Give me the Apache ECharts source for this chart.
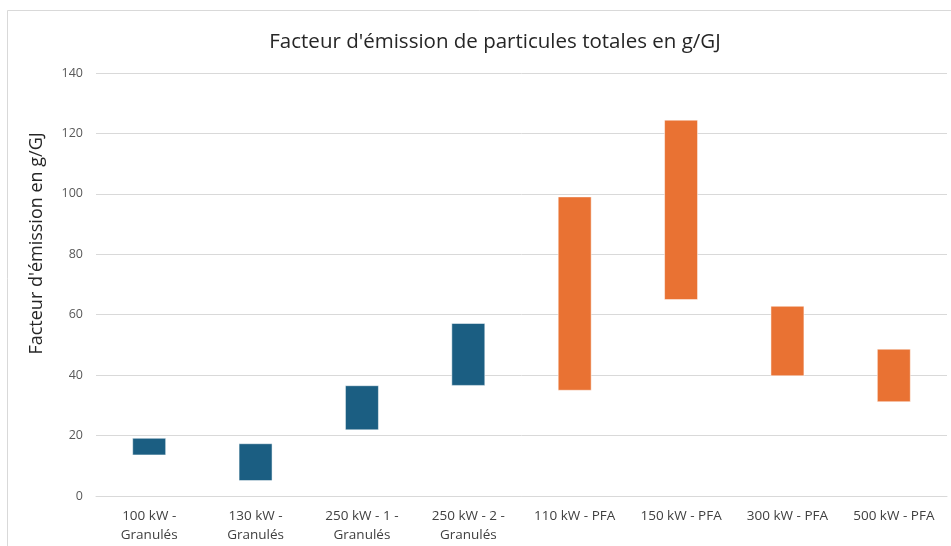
<!DOCTYPE html>
<html>
<head>
<meta charset="utf-8">
<script src="https://cdn.jsdelivr.net/npm/echarts@6/dist/echarts.min.js"></script>
<style>
  html, body { margin: 0; padding: 0; background: #fff; }
  #chart { width: 951px; height: 546px; }
</style>
</head>
<body>
<div id="chart"></div>
<script>
// Categories: boiler power and fuel type
const categories = [
  '100 kW -\nGranulés',
  '130 kW -\nGranulés',
  '250 kW - 1 -\nGranulés',
  '250 kW - 2 -\nGranulés',
  '110 kW - PFA',
  '150 kW - PFA',
  '300 kW - PFA',
  '500 kW - PFA'
];
// Lower and upper bounds of the emission factor (g/GJ)
const lowValues  = [13.6, 5.1, 21.9, 36.6, 35.0, 65.0, 39.8, 31.2];
const highValues = [19.1, 17.3, 36.5, 57.1, 99.0, 124.4, 62.8, 48.6];
// Fuel group per category: 0 = pellets, 1 = wood chips
const fuelGroup = [0, 0, 0, 0, 1, 1, 1, 1];
const groupColors = ['#1b5e82', '#e97233'];
const yTicks = [0, 20, 40, 60, 80, 100, 120, 140];

const chart = echarts.init(document.getElementById('chart'), null, { renderer: 'canvas' });

const rangeData = categories.map((c, i) => [i, lowValues[i], highValues[i], fuelGroup[i]]);

chart.setOption({
  animation: false,
  backgroundColor: '#ffffff',
  title: {
    text: "Facteur d'émission de particules totales en g/GJ",
    left: 490,
    textAlign: 'center',
    top: 27,
    textStyle: { fontFamily: 'Open Sans', fontSize: 20.5, fontWeight: 'normal', color: '#262626' }
  },
  graphic: [{
    type: 'rect',
    shape: { x: 7.5, y: 10.5, width: 960, height: 560 },
    style: { fill: 'none', stroke: '#d9d9d9', lineWidth: 1 },
    silent: true,
    z: -1
  }],
  grid: { left: 96, right: 4, top: 73, bottom: 50, containLabel: false },
  xAxis: {
    type: 'category',
    data: categories,
    axisLine: { show: true, lineStyle: { color: '#d9d9d9', width: 1 } },
    axisTick: { show: false },
    axisLabel: {
      interval: 0,
      margin: 11,
      fontFamily: 'Open Sans',
      fontSize: 13.5,
      lineHeight: 19,
      color: '#404040'
    },
    splitLine: { show: false }
  },
  yAxis: {
    type: 'value',
    min: yTicks[0],
    max: yTicks[yTicks.length - 1],
    interval: 20,
    name: "Facteur d'émission en g/GJ",
    nameLocation: 'middle',
    nameGap: 50,
    nameTextStyle: { fontFamily: 'Open Sans', fontSize: 18, color: '#262626', padding: [0, 0, 0, 82] },
    axisLine: { show: false },
    axisTick: { show: false },
    axisLabel: { fontFamily: 'Open Sans', fontSize: 12.5, color: '#595959', margin: 13 },
    splitLine: { lineStyle: { color: '#d9d9d9', width: 1 } }
  },
  series: [{
    type: 'custom',
    data: rangeData,
    encode: { x: 0, y: [1, 2] },
    renderItem: function (params, api) {
      const idx = api.value(0);
      const lo = api.coord([idx, api.value(1)]);
      const hi = api.coord([idx, api.value(2)]);
      const bandW = api.size([1, 0])[0];
      const w = bandW * 0.31;
      const color = groupColors[api.value(3)];
      return {
        type: 'rect',
        shape: { x: lo[0] - w / 2, y: hi[1], width: w, height: lo[1] - hi[1] },
        style: { fill: color, stroke: 'rgba(255,255,255,0.5)', lineWidth: 1 }
      };
    }
  }]
});
</script>
</body>
</html>
